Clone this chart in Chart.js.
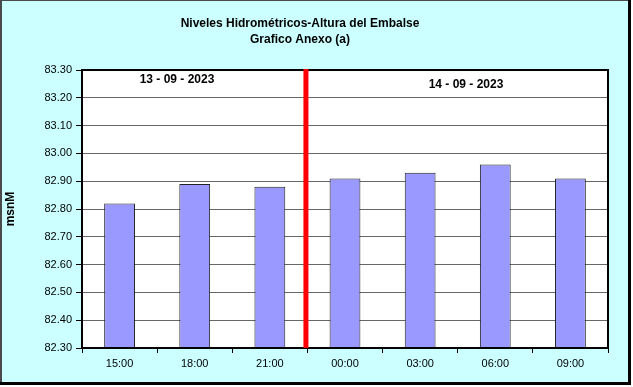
<!DOCTYPE html>
<html>
<head>
<meta charset="utf-8">
<script src="https://cdn.jsdelivr.net/npm/chart.js@4"></script>
<style>
  html, body { margin: 0; padding: 0; background: #ffffff; }
  #wrap { width: 633px; height: 387px; }
</style>
</head>
<body>
<div id="wrap"><canvas id="nivelChart" width="633" height="387"></canvas></div>
<script>
// Niveles hidrometricos - altura del embalse
const horas = ['15:00', '18:00', '21:00', '00:00', '03:00', '06:00', '09:00'];
const niveles = [82.82, 82.89, 82.88, 82.91, 82.93, 82.96, 82.91];
const yMin = 82.30;
const yMax = 83.30;
const yStep = 0.10;
const fechas = ['13 - 09 - 2023', '14 - 09 - 2023'];
const tituloLineas = ['Niveles Hidrométricos-Altura del Embalse', 'Grafico Anexo (a)'];
const ejeY = 'msnM';
const cambioDia = 3; // index of first category of the second day

const FONT = '"Liberation Sans", Arial, sans-serif';

const decorPlugin = {
    id: 'decor',
    beforeDraw(chart) {
        const c = chart.ctx;
        c.save();
        c.fillStyle = '#ffffff';
        c.fillRect(0, 0, chart.width, chart.height);
        c.fillStyle = '#ccffff';
        c.fillRect(0, 0, 629, 383);
        // frame
        c.fillStyle = '#4a4a4a';
        c.fillRect(0, 0, 2, 383);
        c.fillRect(0, 0, 629, 1);
        c.fillStyle = '#000000';
        c.fillRect(628, 0, 3, 385);
        c.fillRect(0, 382, 631, 3);
        // plot background
        const a = chart.chartArea;
        c.fillStyle = '#ffffff';
        c.fillRect(a.left, a.top, a.right - a.left, a.bottom - a.top);
        c.restore();
    },
    afterDraw(chart) {
        const c = chart.ctx;
        const a = chart.chartArea;
        const x = chart.scales.x;
        c.save();
        // plot border
        c.strokeStyle = '#000000';
        c.lineWidth = 2;
        c.strokeRect(a.left, a.top, a.right - a.left, a.bottom - a.top);
        // day separator
        const sx = (x.getPixelForValue(cambioDia - 1) + x.getPixelForValue(cambioDia)) / 2 - 1.5;
        c.fillStyle = '#ff0000';
        c.fillRect(sx - 2.5, a.top - 1, 5, a.bottom - a.top + 1);
        // titles
        c.fillStyle = '#000000';
        c.textAlign = 'center';
        c.textBaseline = 'middle';
        c.font = 'bold 12px ' + FONT;
        c.fillText(tituloLineas[0], 300, 24);
        c.fillText(tituloLineas[1], 300, 40);
        // day labels
        c.fillText(fechas[0], 177, 80);
        c.fillText(fechas[1], 466, 85);
        // y axis title
        c.translate(11, 209);
        c.rotate(-Math.PI / 2);
        c.fillText(ejeY, 0, 0);
        c.restore();
    }
};

const ctx = document.getElementById('nivelChart').getContext('2d');
new Chart(ctx, {
    type: 'bar',
    data: {
        labels: horas,
        datasets: [{
            data: niveles.map(v => [yMin, v]),
            backgroundColor: '#9999ff',
            borderColor: '#222222',
            borderWidth: 1,
            borderSkipped: 'bottom',
            categoryPercentage: 1,
            barPercentage: 0.41
        }]
    },
    options: {
        responsive: false,
        animation: false,
        events: [],
        layout: { padding: { left: 0, top: 70, right: 25, bottom: 0 } },
        plugins: {
            legend: { display: false },
            title: { display: false },
            tooltip: { enabled: false }
        },
        scales: {
            x: {
                offset: true,
                grid: {
                    offset: true,
                    drawOnChartArea: false,
                    drawTicks: true,
                    tickLength: 5,
                    color: '#000000'
                },
                border: { display: false },
                ticks: {
                    color: '#000000',
                    font: { family: FONT, size: 11 },
                    padding: 4,
                    maxRotation: 0
                },
                afterFit(scale) { scale.height = 39; }
            },
            y: {
                min: yMin,
                max: yMax,
                grid: {
                    color: '#666666',
                    lineWidth: 1,
                    drawTicks: true,
                    tickLength: 6,
                    tickColor: '#000000'
                },
                border: { display: false },
                ticks: {
                    stepSize: yStep,
                    color: '#000000',
                    font: { family: FONT, size: 11 },
                    padding: 4,
                    callback: v => Number(v).toFixed(2)
                },
                afterFit(scale) { scale.width = 82; }
            }
        }
    },
    plugins: [decorPlugin]
});
</script>
</body>
</html>
